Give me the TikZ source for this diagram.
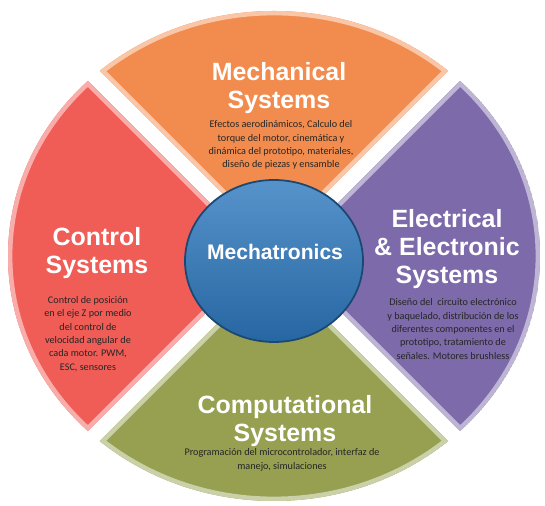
\documentclass[tikz,border=0pt]{standalone}
\usepackage{fontspec}
\newfontfamily\headfont{Liberation Sans}
\newfontfamily\notefont{Carlito}
\definecolor{mechorange}{HTML}{F28C4E}
\definecolor{elecpurple}{HTML}{7D6AAA}
\definecolor{compgreen}{HTML}{96A050}
\definecolor{ctrlred}{HTML}{F05C56}
\definecolor{coreblue}{HTML}{2D78BE}

\begin{document}
\begin{tikzpicture}[
		x=0.02cm, y=0.02cm,
		title/.style={font=\headfont\bfseries\fontsize{14.2}{16}\selectfont, text=white, align=center},
		note/.style={font=\notefont\fontsize{5.8}{7.6}\selectfont, text=black!85, align=center},
		disc/.style={top color=coreblue!80!white, bottom color=coreblue!85!black, draw=coreblue!60!black, line width=1pt},
		core/.style={font=\headfont\bfseries\fontsize{12}{14}\selectfont, text=white}
	]
	\useasboundingbox (0,0) rectangle (545,506);
	\coordinate (c) at (274,250);

	% the four petals, split by white gaps
	\foreach \dir/\col in {90/mechorange, 0/elecpurple, 270/compgreen, 180/ctrlred} {
			\path (c) ++(\dir:11) coordinate (a);
			\path (a) ++(\dir-45:600) coordinate (b);
			\path (a) ++(\dir+45:600) coordinate (d);
			\begin{scope}
				\clip (c) ellipse [x radius=266, y radius=245];
				\clip (a) -- (b) -- (d) -- cycle;
				\fill[\col] (c) ellipse [x radius=266, y radius=245];
				\draw[\col!50!white, line width=5pt] (c) ellipse [x radius=266, y radius=245];
				\draw[\col!50!white, line width=5pt] (b) -- (a) -- (d);
			\end{scope}
		}

	\coordinate (h) at (274,245);
	\path[disc] (h) ellipse [x radius=89, y radius=81];
	\node[core] (hub) at (275,254) {Mechatronics};

	\node[title] (mech) at (279,418) {Mechanical\\Systems};
	\node[note] (mech-text) at (281,361) {Efectos aerodinámicos, Calculo del\\torque del motor, cinemática y\\dinámica del prototipo, materiales,\\diseño de piezas y ensamble};

	\node[title] (ctrl) at (97,253) {Control\\Systems};
	\node[note] (ctrl-text) at (88,172) {Control de posición\\en el eje Z por medio\\del control de\\velocidad angular de\\cada motor. PWM,\\ESC, sensores};

	\node[title] (elec) at (447,257) {Electrical\\\& Electronic\\Systems};
	\node[note] (elec-text) at (453,177) {Diseño del~ circuito electrónico\\y baquelado, distribución de los\\diferentes componentes en el\\prototipo, tratamiento de\\señales. Motores brushless};

	\node[title] (comp) at (285,85) {Computational\\Systems};
	\node[note] (comp-text) at (282,46) {Programación del microcontrolador, interfaz de\\manejo, simulaciones};
\end{tikzpicture}
\end{document}
